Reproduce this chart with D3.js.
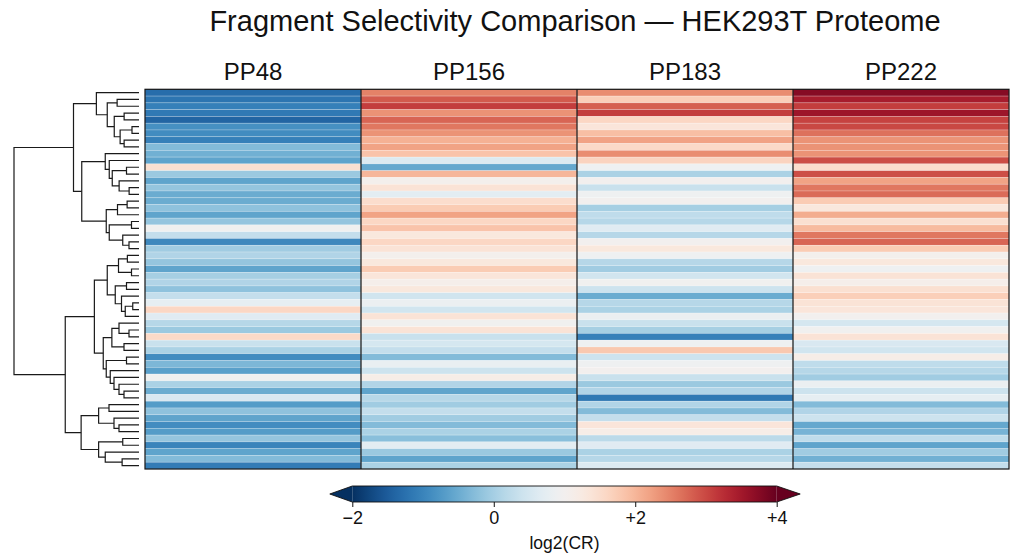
<!DOCTYPE html>
<html><head><meta charset="utf-8">
<script src="https://cdn.jsdelivr.net/npm/d3@7"></script>
<style>body{margin:0;background:#fff}svg{display:block}text{font-family:"Liberation Sans",Arial,Helvetica,sans-serif;fill:#111}</style>
</head><body><svg id="c" width="1024" height="559"></svg>
<script>
const chartTitle = "Fragment Selectivity Comparison — HEK293T Proteome";
const fragments = ["PP48", "PP156", "PP183", "PP222"];
const colorLabel = "log2(CR)";
const colorTicks = [-2, 0, 2, 4];
const colorTickLabels = ["−2", "0", "+2", "+4"];
const colorDomain = [-2, 4];

// log2(CR) per protein row (rows in dendrogram leaf order)
const pp48 = [-1.3,-1.2,-1.05,-1.15,-1.4,-0.85,-0.9,-1.05,-0.3,-0.45,-0.6,1.45,-0.1,-0.6,-0.15,-0.5,-0.5,-0.2,-0.6,-0.15,0.95,0.3,-0.95,-0.05,0.1,-0.15,-0.6,0.0,
  0.1,-0.2,0.3,0.75,1.6,0.65,0.15,-0.1,1.55,0.35,0.05,-0.9,-0.35,-0.65,0.95,0.05,-0.5,0.55,-0.7,-0.2,-0.6,-0.9,-0.7,-0.15,-1.0,-0.6,-0.3,-1.1];
const pp156 = [2.5,2.85,3.1,2.35,2.75,2.6,2.35,2.05,2.2,1.85,0.6,-0.55,2.0,1.05,1.4,0.7,1.5,1.75,2.2,1.6,1.85,1.3,1.6,1.4,1.05,1.3,1.75,1.35,
  1.1,1.3,0.45,0.85,0.45,1.4,0.95,1.4,0.35,0.5,0.3,-0.3,0.8,0.4,1.15,0.1,-0.6,0.15,-0.05,0.3,-0.05,-0.3,0.05,-0.25,0.7,-0.1,-0.6,0.05];
const pp183 = [2.4,1.7,2.8,3.1,1.6,1.35,1.9,2.2,1.55,2.4,1.65,0.9,0.05,1.0,0.35,0.9,1.0,0.0,0.25,0.15,0.65,0.15,1.0,1.3,0.9,0.15,-0.05,0.45,
  0.95,0.4,-0.5,0.15,0.05,0.85,0.35,0.0,-1.05,0.9,1.8,0.4,0.9,1.0,0.35,-0.1,0.1,-1.15,0.1,-0.3,0.3,1.35,1.15,0.2,0.65,0.05,0.15,0.6];
const pp222 = [3.75,3.45,3.1,3.55,3.05,3.0,2.65,2.35,2.35,2.35,2.95,1.5,2.95,2.2,2.6,2.7,1.75,1.3,2.1,1.45,1.95,2.6,2.75,1.75,1.05,1.3,0.9,1.4,
  1.1,1.45,1.7,1.4,1.35,1.0,0.5,0.95,1.4,0.55,0.45,1.15,0.25,0.15,-0.05,0.85,0.4,0.75,-0.3,0.1,0.4,-0.55,-0.4,0.25,-0.6,-0.05,-0.45,0.3];

// row dendrogram: [mergeHeight, left, right], leaves are row indices
const rowTree =
[10.0,
  [5.24,
    [3.41, 0,
      [2.54, [1.75, 1, 2],
        [1.98, [1.19, 3, 4],
          [1.51, [0.56, 5, 6], [1.19, 7, 8]]]]],
    [4.58,
      [2.70, 9,
        [2.38, 10,
          [2.14, [1.0, 11, 12],
            [1.59, 13, [0.79, 14, 15]]]]],
      [2.62,
        [1.72, [0.95, 16, 17], 18],
        [2.38, [0.6, 19, 20], [1.3, 21, [0.8, 22, 23]]]]]],
  [5.9,
    [3.57,
      [2.54,
        [1.64, [0.93, 24, 25], [0.6, 26, 27]],
        [1.9, [1.0, 28, 29], [1.4, 30, [1.1, [0.5, 31, 32], 33]]]],
      [2.86,
        [2.17, [1.6, 34, [0.8, 35, 36]], [1.2, 37, 38]],
        [2.62, [1.0, 39, 40], [2.3, 41, [2.0, 42, [1.6, 43, [1.2, 44, 45]]]]]]],
    [4.63,
      [3.23, [2.4, 46, 47], [2.0, 48, [1.6, 49, 50]]],
      [3.23, [1.3, 51, 52], [2.7, 53, [1.35, 54, 55]]]]]];

const series = [pp48, pp156, pp183, pp222];
const rows = d3.range(pp48.length);
const svg = d3.select("#c");

const x = d3.scaleBand().domain(fragments).range([145, 1009]);
const y = d3.scaleBand().domain(rows).range([89.3, 469]);
const color = d3.scaleSequential(t => d3.interpolateRdBu(1 - t)).domain(colorDomain).clamp(true);

// title
svg.append("text").attr("x", 575).attr("y", 31).attr("text-anchor", "middle")
  .attr("font-size", 29).text(chartTitle);

// column labels
svg.append("g").selectAll("text").data(fragments).join("text")
  .attr("x", d => x(d) + x.bandwidth() / 2).attr("y", 80).attr("text-anchor", "middle")
  .attr("font-size", 24).text(d => d);

// heatmap cells
const cells = [];
fragments.forEach((f, j) => rows.forEach(i => cells.push({ f, i, v: series[j][i] })));
svg.append("g").selectAll("rect").data(cells).join("rect")
  .attr("x", d => x(d.f)).attr("y", d => y(d.i))
  .attr("width", x.bandwidth()).attr("height", y.bandwidth())
  .attr("fill", d => color(d.v))
  .attr("stroke", "rgba(255,255,255,0.35)").attr("stroke-width", 0.6);

// column separators and frame
svg.append("g").selectAll("line").data(fragments.slice(1)).join("line")
  .attr("x1", d => x(d)).attr("x2", d => x(d))
  .attr("y1", y.range()[0]).attr("y2", y.range()[1])
  .attr("stroke", "#111").attr("stroke-width", 1.2);
svg.append("rect").attr("x", x.range()[0]).attr("y", y.range()[0])
  .attr("width", x.range()[1] - x.range()[0]).attr("height", y.range()[1] - y.range()[0])
  .attr("fill", "none").attr("stroke", "#111").attr("stroke-width", 1.2);

// dendrogram
const dx = d3.scaleLinear().domain([0, 10]).range([139, 14]);
const paths = [];
function layout(node) {
  if (typeof node === "number") return { x: dx(0), y: y(node) + y.bandwidth() / 2 };
  const a = layout(node[1]), b = layout(node[2]);
  const nx = dx(node[0]);
  paths.push(`M${a.x},${a.y}H${nx}V${b.y}H${b.x}`);
  return { x: nx, y: (a.y + b.y) / 2 };
}
layout(rowTree);
svg.append("g").selectAll("path").data(paths).join("path")
  .attr("d", d => d).attr("fill", "none").attr("stroke", "#1a1a1a").attr("stroke-width", 1.2);

// colorbar
const cx = d3.scaleLinear().domain(colorDomain).range([352.3, 776.7]);
const cbY = 486, cbH = 16;
const grad = svg.append("defs").append("linearGradient").attr("id", "cbg");
d3.range(0, 1.0001, 0.02).forEach(t => {
  grad.append("stop").attr("offset", t).attr("stop-color", color(colorDomain[0] + t * (colorDomain[1] - colorDomain[0])));
});
svg.append("rect").attr("x", cx(colorDomain[0])).attr("y", cbY)
  .attr("width", cx(colorDomain[1]) - cx(colorDomain[0])).attr("height", cbH).attr("fill", "url(#cbg)");
const x0 = cx(colorDomain[0]), x1 = cx(colorDomain[1]);
svg.append("path").attr("d", `M${x0},${cbY}L${x0 - 22.5},${cbY + cbH / 2}L${x0},${cbY + cbH}Z`).attr("fill", color(colorDomain[0]));
svg.append("path").attr("d", `M${x1},${cbY}L${x1 + 23.5},${cbY + cbH / 2}L${x1},${cbY + cbH}Z`).attr("fill", color(colorDomain[1]));
svg.append("path")
  .attr("d", `M${x0},${cbY}H${x1}L${x1 + 23.5},${cbY + cbH / 2}L${x1},${cbY + cbH}H${x0}L${x0 - 22.5},${cbY + cbH / 2}Z`)
  .attr("fill", "none").attr("stroke", "#111").attr("stroke-width", 0.9);

const axis = svg.append("g").attr("transform", `translate(0,${cbY + cbH})`)
  .call(d3.axisBottom(cx).tickValues(colorTicks).tickFormat((d, i) => colorTickLabels[i]).tickSize(5).tickPadding(4));
axis.select(".domain").remove();
axis.selectAll("line").attr("stroke", "#111");
axis.selectAll("text").attr("font-size", 18).attr("fill", "#111")
  .style("font-family", '"Liberation Sans",Arial,Helvetica,sans-serif');

svg.append("text").attr("x", cx((colorDomain[0] + colorDomain[1]) / 2)).attr("y", 549)
  .attr("text-anchor", "middle").attr("font-size", 17.5).text(colorLabel);
</script></body></html>
